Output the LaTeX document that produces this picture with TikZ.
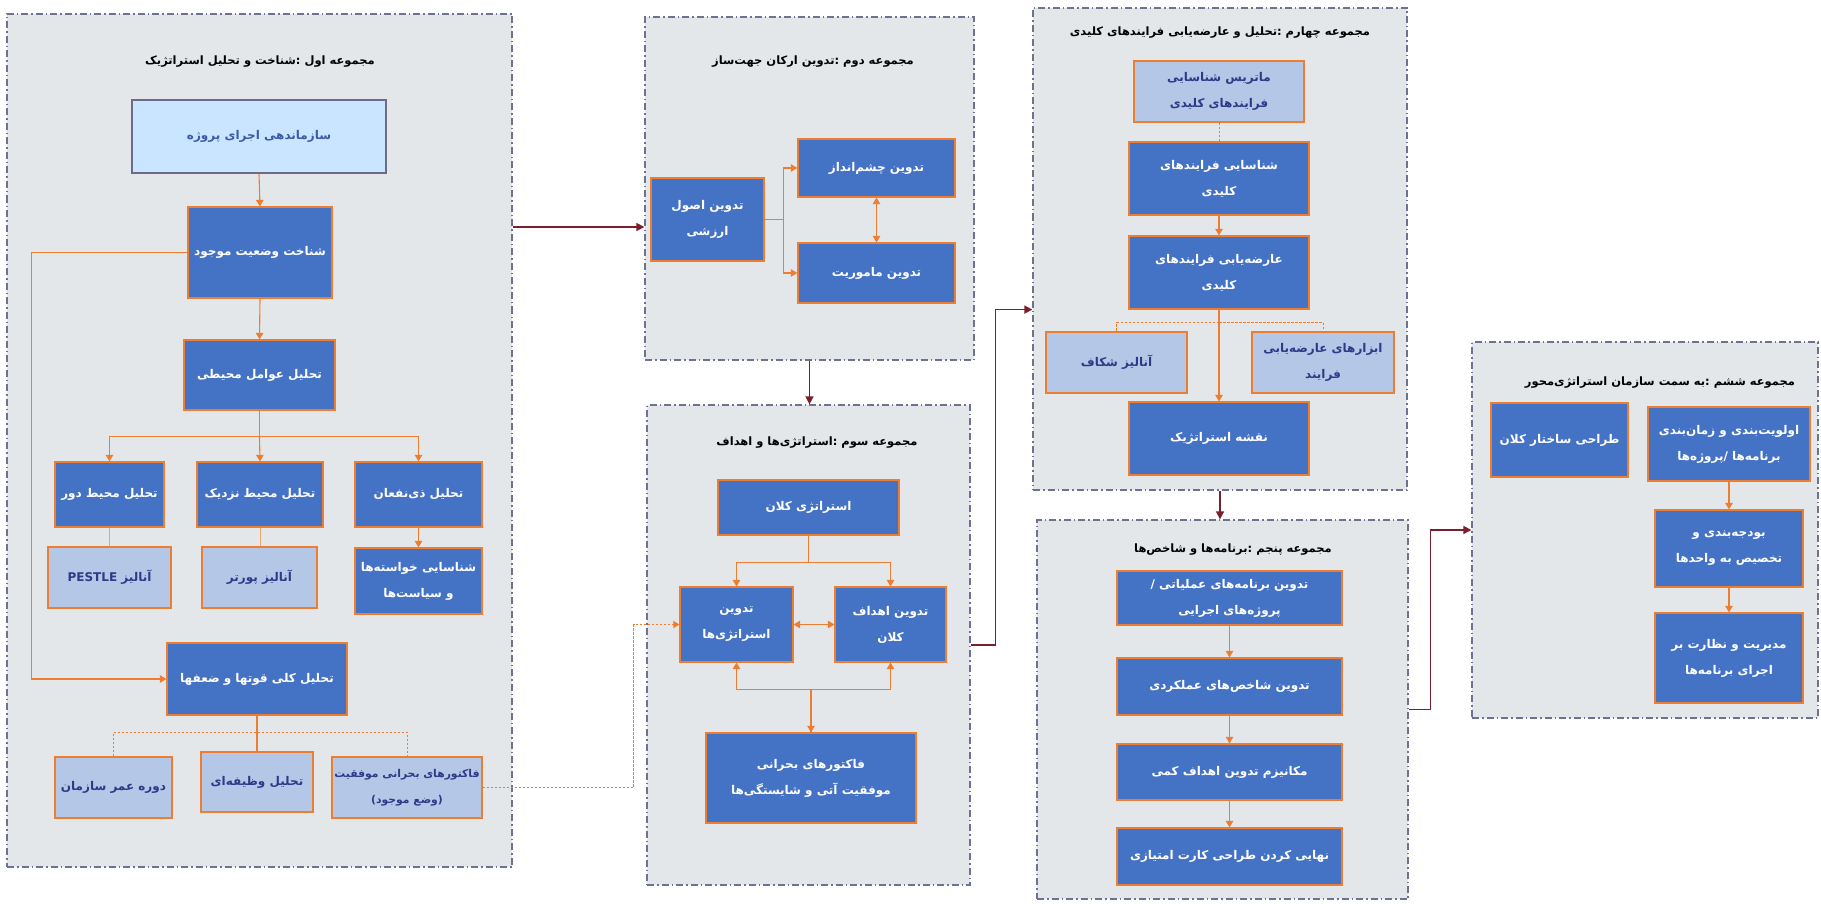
\documentclass[tikz,border=0pt]{standalone}
\usepackage{fontspec}
\usetikzlibrary{arrows.meta}
\TeXXeTstate=1
\newfontfamily\arabicfont[Script=Arabic]{DejaVu Sans}
\newcommand{\fa}[1]{{\arabicfont\beginR #1\endR}}
\newcommand{\boxfont}{\fontsize{12}{26}\selectfont\bfseries}
\newcommand{\smallboxfont}{\fontsize{10.8}{26}\selectfont\bfseries}
\newcommand{\titlefont}{\fontsize{11.5}{14}\selectfont\bfseries}

\definecolor{grpfill}{HTML}{E4E7E9}
\definecolor{grpline}{HTML}{6F7190}
\definecolor{boxfill}{HTML}{4472C4}
\definecolor{boxline}{HTML}{ED7D31}
\definecolor{lightfill}{HTML}{B4C7E7}
\definecolor{lighttext}{HTML}{2E3A87}
\definecolor{headfill}{HTML}{C9E5FF}
\definecolor{headline}{HTML}{6E6A8A}
\definecolor{headtext}{HTML}{3C5BA9}
\definecolor{linkline}{HTML}{7A1F2B}

\tikzset{
	grp/.style = {draw = grpline, fill = grpfill, line width = 1.3pt, dash pattern = on 7pt off 3pt on 1.5pt off 3pt, inner sep = 0pt},
	darkbox/.style = {draw = boxline, fill = boxfill, line width = 1.2pt, text = white, align = center, inner sep = 2pt, font = \boxfont},
	lightbox/.style = {draw = boxline, fill = lightfill, line width = 1.2pt, text = lighttext, align = center, inner sep = 2pt, font = \boxfont},
	headbox/.style = {draw = headline, fill = headfill, line width = 1.4pt, text = headtext, align = center, inner sep = 2pt, font = \boxfont},
	grptitle/.style = {text = black, font = \titlefont},
	flow/.style = {draw = boxline, line width = 1.1pt, -{Triangle[length = 6.5pt, width = 7.5pt]}},
	flowboth/.style = {draw = boxline, line width = 1.1pt, {Triangle[length = 6.5pt, width = 7.5pt]}-{Triangle[length = 6.5pt, width = 7.5pt]}},
	plain/.style = {draw = boxline, line width = 1.1pt},
	faint/.style = {draw = boxline!70!white, line width = 0.6pt},
	dots/.style = {draw = boxline, line width = 0.9pt, dash pattern = on 2.5pt off 1.5pt},
	link/.style = {draw = linkline, line width = 1.6pt, -{Triangle[length = 8pt, width = 8pt]}}
}

\begin{document}
\begin{tikzpicture}[x = 1pt, y = -1pt]
	\fill[white] (0, 0) rectangle (1821, 904);
	\useasboundingbox (0, 0) rectangle (1821, 904);

	\node[grp, minimum width = 505, minimum height = 853] (g1) at (259.5, 440.5) {};
	\node[grp, minimum width = 329, minimum height = 343] (g2) at (809.5, 188.5) {};
	\node[grp, minimum width = 323, minimum height = 480] (g3) at (808.5, 645) {};
	\node[grp, minimum width = 374, minimum height = 482] (g4) at (1220, 249) {};
	\node[grp, minimum width = 371, minimum height = 379] (g5) at (1222.5, 709.5) {};
	\node[grp, minimum width = 346, minimum height = 376] (g6) at (1645, 530) {};

	\node[grptitle] (t1) at (260, 62) {\fa{مجموعه اول :شناخت و تحلیل استراتژیک}};
	\node[grptitle] (t2) at (813, 62) {\fa{مجموعه دوم :تدوین ارکان جهت^^^^200cساز}};
	\node[grptitle] (t3) at (817, 443) {\fa{مجموعه سوم :استراتژی^^^^200cها و اهداف}};
	\node[grptitle] (t4) at (1220, 33) {\fa{مجموعه چهارم :تحلیل و عارضه^^^^200cیابی فرایندهای کلیدی}};
	\node[grptitle] (t5) at (1233, 550) {\fa{مجموعه پنجم :برنامه^^^^200cها و شاخص^^^^200cها}};
	\node[grptitle] (t6) at (1660, 383) {\fa{مجموعه ششم :به سمت سازمان استراتژی^^^^200cمحور}};

	\node[headbox, minimum width = 254, minimum height = 73] (b11) at (259, 136.5) {\fa{سازماندهی اجرای پروژه}};
	\node[darkbox, minimum width = 144, minimum height = 91] (b12) at (260, 252.5) {\fa{شناخت وضعیت موجود}};
	\node[darkbox, minimum width = 151, minimum height = 70] (b13) at (259.5, 375) {\fa{تحلیل عوامل محیطی}};
	\node[darkbox, minimum width = 109, minimum height = 65] (b14) at (109.5, 494.5) {\fa{تحلیل محیط دور}};
	\node[darkbox, minimum width = 126, minimum height = 65] (b15) at (260, 494.5) {\fa{تحلیل محیط نزدیک}};
	\node[darkbox, minimum width = 127, minimum height = 65] (b16) at (418.5, 494.5) {\fa{تحلیل ذی^^^^200cنفعان}};
	\node[lightbox, minimum width = 123, minimum height = 61] (b17) at (109.5, 577.5) {\fa{آنالیز \beginL PESTLE\endL}};
	\node[lightbox, minimum width = 115, minimum height = 61] (b18) at (259.5, 577.5) {\fa{آنالیز پورتر}};
	\node[darkbox, minimum width = 127, minimum height = 66] (b19) at (418.5, 581) {\fa{شناسایی خواسته^^^^200cها}\\\fa{و سیاست^^^^200cها}};
	\node[darkbox, minimum width = 180, minimum height = 72] (b110) at (257, 679) {\fa{تحلیل کلی قوتها و ضعفها}};
	\node[lightbox, minimum width = 117, minimum height = 61] (b111) at (113.5, 787.5) {\fa{دوره عمر سازمان}};
	\node[lightbox, minimum width = 112, minimum height = 60] (b112) at (257, 782) {\fa{تحلیل وظیفه^^^^200cای}};
	\node[lightbox, font = \smallboxfont, minimum width = 150, minimum height = 61] (b113) at (407, 787.5) {\fa{فاکتورهای بحرانی موفقیت}\\\fa{(وضع موجود)}};

	\node[darkbox, minimum width = 113, minimum height = 83] (b21) at (707.5, 219.5) {\fa{تدوین اصول}\\\fa{ارزشی}};
	\node[darkbox, minimum width = 157, minimum height = 58] (b22) at (876.5, 168) {\fa{تدوین چشم^^^^200cانداز}};
	\node[darkbox, minimum width = 157, minimum height = 60] (b23) at (876.5, 273) {\fa{تدوین ماموریت}};

	\node[darkbox, minimum width = 181, minimum height = 55] (b31) at (808.5, 507.5) {\fa{استراتژی کلان}};
	\node[darkbox, minimum width = 113, minimum height = 75] (b32) at (736.5, 624.5) {\fa{تدوین}\\\fa{استراتژی^^^^200cها}};
	\node[darkbox, minimum width = 111, minimum height = 75] (b33) at (890.5, 624.5) {\fa{تدوین اهداف}\\\fa{کلان}};
	\node[darkbox, minimum width = 210, minimum height = 90] (b34) at (811, 778) {\fa{فاکتورهای بحرانی}\\\fa{موفقیت آتی و شایستگی^^^^200cها}};

	\node[lightbox, minimum width = 170, minimum height = 61] (b41) at (1219, 91.5) {\fa{ماتریس شناسایی}\\\fa{فرایندهای کلیدی}};
	\node[darkbox, minimum width = 180, minimum height = 73] (b42) at (1219, 178.5) {\fa{شناسایی فرایندهای}\\\fa{کلیدی}};
	\node[darkbox, minimum width = 180, minimum height = 73] (b43) at (1219, 272.5) {\fa{عارضه^^^^200cیابی فرایندهای}\\\fa{کلیدی}};
	\node[lightbox, minimum width = 141, minimum height = 61] (b44) at (1116.5, 362.5) {\fa{آنالیز شکاف}};
	\node[lightbox, minimum width = 142, minimum height = 61] (b45) at (1323, 362.5) {\fa{ابزارهای عارضه^^^^200cیابی}\\\fa{فرایند}};
	\node[darkbox, minimum width = 180, minimum height = 73] (b46) at (1219, 438.5) {\fa{نقشه استراتژیک}};

	\node[darkbox, minimum width = 225, minimum height = 54] (b51) at (1229.5, 598) {\fa{تدوین برنامه^^^^200cهای عملیاتی /}\\\fa{پروژه^^^^200cهای اجرایی}};
	\node[darkbox, minimum width = 225, minimum height = 57] (b52) at (1229.5, 686.5) {\fa{تدوین شاخص^^^^200cهای عملکردی}};
	\node[darkbox, minimum width = 225, minimum height = 56] (b53) at (1229.5, 772) {\fa{مکانیزم تدوین اهداف کمی}};
	\node[darkbox, minimum width = 225, minimum height = 57] (b54) at (1229.5, 856.5) {\fa{نهایی کردن طراحی کارت امتیازی}};

	\node[darkbox, minimum width = 137, minimum height = 74] (b61) at (1559.5, 440) {\fa{طراحی ساختار کلان}};
	\node[darkbox, minimum width = 162, minimum height = 74] (b62) at (1729, 444) {\fa{اولویت^^^^200cبندی و زمان^^^^200cبندی}\\\fa{برنامه^^^^200cها /پروژه^^^^200cها}};
	\node[darkbox, minimum width = 148, minimum height = 77] (b63) at (1729, 548.5) {\fa{بودجه^^^^200cبندی و}\\\fa{تخصیص به واحدها}};
	\node[darkbox, minimum width = 148, minimum height = 90] (b64) at (1729, 658) {\fa{مدیریت و نظارت بر}\\\fa{اجرای برنامه^^^^200cها}};

	\draw[flow] (b11.south) -- (b12.north);
	\draw[flow] (b12.south) -- (b13.north);
	\draw[plain] (b13.south) -- ++(0, 26) coordinate (s1);
	\draw[flow] (s1) -| (b14.north);
	\draw[flow] (s1) -- (b15.north);
	\draw[flow] (s1) -| (b16.north);
	\draw[faint] (b14.south) -- (b14.south |- b17.north);
	\draw[faint] (b15.south) -- (b15.south |- b18.north);
	\draw[flow] (b16.south) -- (b19.north);
	\draw[flow] (b12.west) -- ++(-156, 0) |- (b110.west);
	\draw[plain] (b110.south) -- (b112.north);
	\draw[dots] (b111.north) -- ++(0, -24) -| (b113.north);
	\draw[dots, -{Triangle[length = 6pt, width = 7pt]}] (b113.east) -- ++(151, 0) |- (b32.west);

	\draw[plain] (b21.east) -- ++(19, 0) coordinate (s2);
	\draw[flow] (s2) |- (b22.west);
	\draw[flow] (s2) |- (b23.west);
	\draw[flowboth] (b22.south) -- (b23.north);

	\draw[plain] (b31.south) -- ++(0, 27) coordinate (s3);
	\draw[flow] (s3) -| (b32.north);
	\draw[flow] (s3) -| (b33.north);
	\draw[flowboth] (b32.east) -- (b33.west);
	\draw[plain] (b34.north) -- ++(0, -43) coordinate (s4);
	\draw[flow] (s4) -- (b34.north);
	\draw[flow] (s4) -| (b32.south);
	\draw[flow] (s4) -| (b33.south);

	\draw[dots] (b41.south) -- (b42.north);
	\draw[flow] (b42.south) -- (b43.north);
	\draw[flow] (b43.south) -- (b46.north);
	\draw[dots] (b43.south) -- ++(0, 13) coordinate (s5);
	\draw[dots] (s5) -| (b44.north);
	\draw[dots] (s5) -| (b45.north);

	\draw[flow] (b51.south) -- (b52.north);
	\draw[flow] (b52.south) -- (b53.north);
	\draw[flow] (b53.south) -- (b54.north);

	\draw[flow] (b62.south) -- (b63.north);
	\draw[flow] (b63.south) -- (b64.north);

	\path ([yshift = -7.5pt]b21.west) coordinate (e2);
	\draw[link] (e2 -| g1.east) -- (e2 -| g2.west);
	\draw[link] (g2.south) -- (g2.south |- g3.north);
	\draw[link] (g3.east) -- ++(25, 0) |- (b43.south -| g4.west);
	\draw[link] (g4.south) -- (g4.south |- g5.north);
	\draw[link] (g5.east) -- ++(22, 0) |- (g6.west);
\end{tikzpicture}
\end{document}
